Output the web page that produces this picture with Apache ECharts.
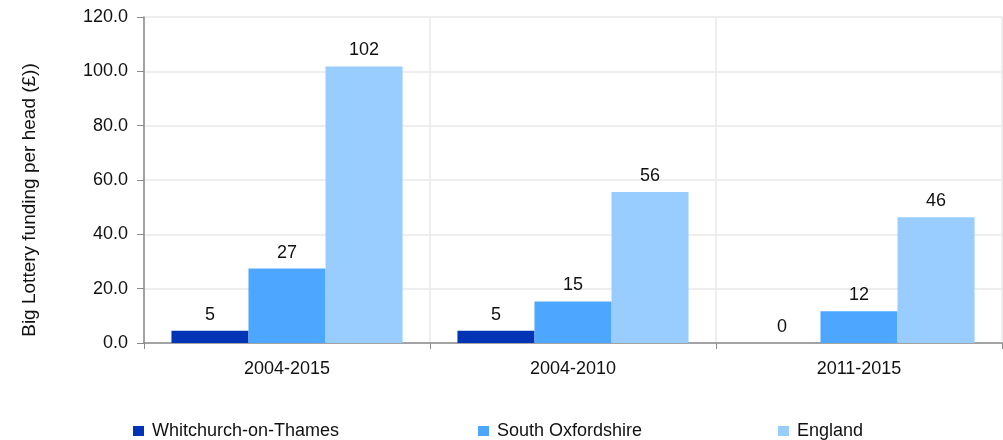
<!DOCTYPE html>
<html>
<head>
<meta charset="utf-8">
<script src="https://cdn.jsdelivr.net/npm/echarts@6/dist/echarts.min.js"></script>
<style>
  html, body { margin: 0; padding: 0; background: #fff; }
  #main { width: 1003px; height: 440px; }
</style>
</head>
<body>
<div id="main"></div>
<script>
// periods on the x axis
var periods = ['2004-2015', '2004-2010', '2011-2015'];
// funding per head (£)
var whitchurch = [4.5, 4.5, 0];
var southOxon = [27.4, 15.3, 11.7];
var england = [101.8, 55.6, 46.3];
var seriesNames = ['Whitchurch-on-Thames', 'South Oxfordshire', 'England'];
var colors = ['#0033B5', '#4DA6FF', '#99CCFF'];

var font = "'Liberation Sans', Arial, sans-serif";
var chart = echarts.init(document.getElementById('main'));

function barSeries(name, data, color) {
  return {
    name: name,
    type: 'bar',
    data: data,
    barGap: 0,
    barCategoryGap: '19.2%',
    itemStyle: { color: color },
    label: {
      show: true,
      position: 'top',
      distance: 7,
      color: '#111',
      fontSize: 18,
      fontFamily: font,
      formatter: function (p) { return Math.round(p.value); }
    }
  };
}

// one legend per item so each sits where the reference puts it
var legendLeft = [128, 473, 773];
var legends = [];
for (var i = 0; i < seriesNames.length; i++) {
  legends.push({
    data: [seriesNames[i]],
    left: legendLeft[i],
    top: 417,
    icon: 'rect',
    itemWidth: 11,
    itemHeight: 10,
    selectedMode: false,
    textStyle: { fontSize: 18, fontFamily: font, color: '#111', padding: [0, 0, 0, 3] }
  });
}

var option = {
  animation: false,
  backgroundColor: '#ffffff',
  legend: legends,
  grid: { left: 144, right: 1, top: 17, bottom: 97 },
  xAxis: {
    type: 'category',
    data: periods,
    axisLine: { lineStyle: { color: '#8a8a8a', width: 1.5 } },
    axisTick: { show: true, length: 6, lineStyle: { color: '#8a8a8a' } },
    axisLabel: { margin: 17, fontSize: 18, fontFamily: font, color: '#111' },
    splitLine: { show: true, lineStyle: { color: '#e8e8e8', width: 1.5 } }
  },
  yAxis: {
    type: 'value',
    min: 0,
    max: 120,
    interval: 20,
    name: 'Big Lottery funding per head (£))',
    nameLocation: 'middle',
    nameGap: 105,
    nameTextStyle: { fontSize: 19, fontFamily: font, color: '#111', padding: [0, 40, 0, 0] },
    axisLine: { show: true, lineStyle: { color: '#8a8a8a', width: 1.5 } },
    axisTick: { show: true, length: 7, lineStyle: { color: '#8a8a8a' } },
    axisLabel: {
      margin: 16,
      fontSize: 18,
      fontFamily: font,
      color: '#111',
      formatter: function (v) { return v.toFixed(1); }
    },
    splitLine: { lineStyle: { color: '#e8e8e8', width: 1.5 } }
  },
  series: [
    barSeries(seriesNames[0], whitchurch, colors[0]),
    barSeries(seriesNames[1], southOxon, colors[1]),
    barSeries(seriesNames[2], england, colors[2])
  ]
};

chart.setOption(option);
</script>
</body>
</html>
